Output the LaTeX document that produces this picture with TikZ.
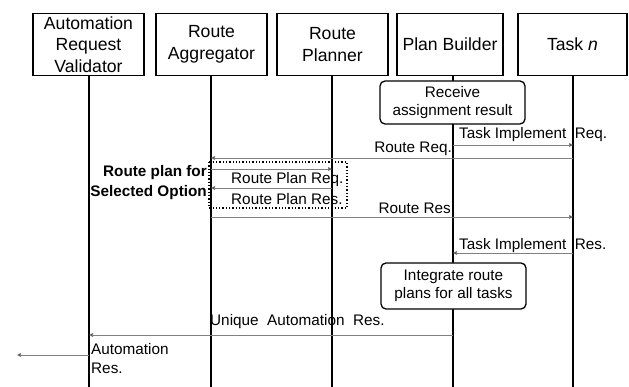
\documentclass[tikz,border=0pt]{standalone}
\usepackage{fontspec}
\setmainfont{Liberation Sans}
\usetikzlibrary{arrows.meta}
\begin{document}
\begin{tikzpicture}[x=1pt,y=-1pt,
  actor/.style={draw=black,line width=1.3pt,minimum width=111pt,minimum height=62pt,inner sep=0pt,align=center,font=\fontsize{17.6}{21.5}\selectfont},
  life/.style={line width=1.5pt,black},
  act/.style={draw=black,line width=1.3pt,rounded corners=5pt,inner sep=0pt,align=center,font=\fontsize{15.3}{18.5}\selectfont},
  msg/.style={draw=gray,line width=0.8pt,-{Triangle[length=4pt,width=4pt,fill=black]}},
  lbl/.style={inner sep=0pt,font=\fontsize{15.3}{19}\selectfont},
  boldlbl/.style={inner sep=0pt,align=right,font=\fontsize{15.3}{20}\selectfont\bfseries}]
\useasboundingbox[fill=white] (0,0) rectangle (629,387);
% actors
\node[actor] (arv) at (88.5,44.5) {Automation\\Request\\Validator};
\node[actor] (ra) at (211.5,44.5) {Route\\Aggregator};
\node[actor] (rp) at (332.5,44.5) {Route\\Planner};
\node[actor,minimum width=106pt] (pb) at (450,44.5) {Plan Builder};
\node[actor,minimum width=109pt] (tn) at (572.5,44.5) {Task \textit{n}};
% lifeline ends
\coordinate (e1) at (89,387);
\coordinate (e2) at (211,387);
\coordinate (e3) at (332,387);
\coordinate (e4) at (453,387);
\coordinate (e5) at (573,387);
\draw[life] (e1 |- arv.south) -- (e1);
\draw[life] (e2 |- ra.south) -- (e2);
\draw[life] (e3 |- rp.south) -- (e3);
\draw[life] (e4 |- pb.south) -- (e4);
\draw[life] (e5 |- tn.south) -- (e5);
% activity boxes
\node[act,fill=white,minimum width=145pt,minimum height=43pt] (rcv) at (452.5,102.5) {Receive\\assignment result};
\node[act,fill=white,minimum width=145pt,minimum height=46pt] (itg) at (453.5,286) {Integrate route\\plans for all tasks};
% dotted group box
\draw[line width=1.3pt,dotted] (209,162) rectangle (347,208);
\node[boldlbl,anchor=east] (grp) at (207,183) {Route plan for\\Selected Option};
% messages
\draw[msg] (e4 |- 0,145) -- (e5 |- 0,145);
\node[lbl,anchor=west] (m1) at (459,135) {Task Implement\ \ Req.};
\draw[msg] (e5 |- 0,158) -- (e2 |- 0,158);
\node[lbl,anchor=east] (m2) at (452,149) {Route Req.};
\draw[msg] (e2 |- 0,169) -- (e3 |- 0,169);
\node[lbl,anchor=west] (m3) at (231,179.5) {Route Plan Req.};
\draw[msg] (e3 |- 0,188) -- (e2 |- 0,188);
\node[lbl,anchor=west] (m4) at (231,199) {Route Plan Res.};
\draw[msg] (e2 |- 0,217) -- (e5 |- 0,217);
\node[lbl,anchor=east] (m5) at (451,208) {Route Res};
\draw[msg] (e5 |- 0,253) -- (e4 |- 0,253);
\node[lbl,anchor=west] (m6) at (459,246) {Task Implement\ \ Res.};
\draw[msg] (e4 |- 0,335) -- (e1 |- 0,335);
\node[lbl,anchor=west] (m7) at (210,322) {Unique\ \ Automation\ \ Res.};
\coordinate (out) at (17,355);
\draw[msg] (e1 |- 0,355) -- (out);
\node[lbl,anchor=west,align=left] (m8) at (91,358.5) {Automation\\Res.};
\end{tikzpicture}
\end{document}
